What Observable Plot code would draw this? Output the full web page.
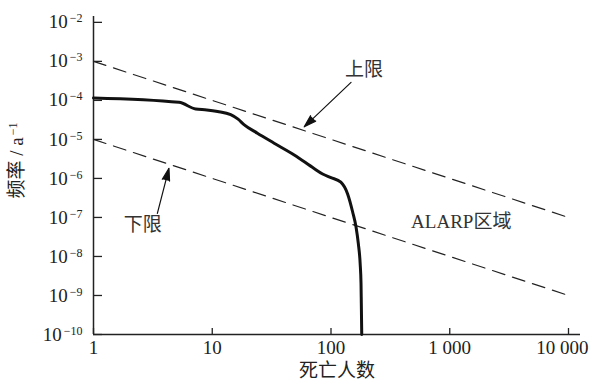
<!DOCTYPE html>
<html><head><meta charset="utf-8">
<script src="https://cdn.jsdelivr.net/npm/d3@7"></script>
<script src="https://cdn.jsdelivr.net/npm/@observablehq/plot@0.6"></script>
<style>
body{margin:0;background:#fff;}
#chart svg, #chart svg text { font-family: "Liberation Serif", "Times New Roman", "Noto Sans CJK SC", serif !important; }
</style></head><body><div id="chart"></div>
<script>
// F-N curve (deaths vs frequency)
const deaths = [1, 5.25, 7.26, 9, 11.1, 14.3, 16.5, 18.5, 24, 33.2, 49, 72, 85, 100, 121, 138, 152, 162.5, 170, 176, 179, 180, 181.5];
const freq = [1.15e-4, 8.9e-5, 6.0e-5, 5.7e-5, 5.2e-5, 4.3e-5, 3.3e-5, 2.4e-5, 1.44e-5, 8e-6, 4e-6, 1.8e-6, 1.3e-6, 1.05e-6, 8.0e-7, 4e-7, 1.4e-7, 5.7e-8, 2.1e-8, 6.6e-9, 2e-9, 6.2e-10, 1e-10];

// criterion lines
const limitX = [1, 10000];
const upperLimit = [1e-3, 1e-7];
const lowerLimit = [1e-5, 1e-9];

// ticks
const xTicks = [1, 10, 100, 1000, 10000];
const xTickLabels = ["1", "10", "100", "1 000", "10 000"];
const yTicks = [1e-10, 1e-9, 1e-8, 1e-7, 1e-6, 1e-5, 1e-4, 1e-3, 1e-2];
const yTickExponents = ["−10", "−9", "−8", "−7", "−6", "−5", "−4", "−3", "−2"];

// annotations
const noteText = ["上限", "下限", "ALARP区域"];
const noteX = [190, 2.6, 1250];
const noteY = [6.2e-4, 6.3e-8, 7.6e-8];
const arrowX1 = [147.5, 3.45];
const arrowY1 = [2.9e-4, 1.27e-7];
const arrowX2 = [59.5, 4.32];
const arrowY2 = [2.1e-5, 1.82e-6];

const xLabel = "死亡人数";
const yLabelMain = "频率 / a";
const yLabelSup = "−1";

const curve = deaths.map((d, i) => ({x: d, y: freq[i]}));
const upper = limitX.map((d, i) => ({x: d, y: upperLimit[i]}));
const lower = limitX.map((d, i) => ({x: d, y: lowerLimit[i]}));
const notes = noteText.map((t, i) => ({t, x: noteX[i], y: noteY[i]}));
const arrows = arrowX1.map((d, i) => ({x1: d, y1: arrowY1[i], x2: arrowX2[i], y2: arrowY2[i]}));

const font = "Liberation Serif, Noto Sans CJK SC, serif";

const plot = Plot.plot({
  width: 592,
  height: 379,
  marginLeft: 93,
  marginRight: 12,
  marginTop: 16,
  marginBottom: 45,
  style: {fontFamily: font, fontSize: "19px", background: "#fff", color: "#222"},
  x: {type: "log", domain: [1, 12620]},
  y: {type: "log", domain: [1e-10, Math.pow(10, -1.85)]},
  marks: [
    Plot.axisX({
      ticks: xTicks,
      tickFormat: (d) => xTickLabels[xTicks.indexOf(d)],
      tickSize: -6,
      tickPadding: 12,
      strokeWidth: 1.3,
      label: xLabel,
      labelAnchor: "center",
      labelOffset: 42,
      labelArrow: "none"
    }),
    Plot.axisY({
      ticks: yTicks,
      tickFormat: (d) => yTickExponents[yTicks.indexOf(d)],
      tickSize: -9,
      tickPadding: 20,
      strokeWidth: 1.3,
      label: yLabelMain,
      labelAnchor: "center",
      labelOffset: 84,
      labelArrow: "none"
    }),
    Plot.ruleX([1], {stroke: "#222", strokeWidth: 1.5}),
    Plot.ruleY([1e-10], {stroke: "#222", strokeWidth: 1.5}),
    Plot.line(upper, {x: "x", y: "y", stroke: "#222", strokeWidth: 1.2, strokeDasharray: "13,8"}),
    Plot.line(lower, {x: "x", y: "y", stroke: "#222", strokeWidth: 1.2, strokeDasharray: "13,8"}),
    Plot.line(curve, {x: "x", y: "y", stroke: "#111", strokeWidth: 3, curve: "monotone-x"}),
    Plot.arrow(arrows, {x1: "x1", y1: "y1", x2: "x2", y2: "y2", stroke: "#111", fill: "#111", strokeWidth: 1.2, headLength: 16, headAngle: 34}),
    Plot.text(notes, {x: "x", y: "y", text: "t", fontSize: 19, fill: "#333"})
  ]
});

// superscript exponents on y tick labels
d3.select(plot).selectAll('g[aria-label="y-axis tick label"] text').each(function() {
  const t = d3.select(this);
  const exp = t.text();
  t.text(null);
  t.append("tspan").text("10");
  t.append("tspan").attr("dy", "-0.5em").attr("font-size", "12px").attr("dx", "2").text(exp);
});
// keep the last x tick label inside the picture
d3.select(plot).selectAll('g[aria-label="x-axis tick label"] text').each(function() {
  const t = d3.select(this);
  if (t.text() === xTickLabels[xTickLabels.length - 1]) t.attr("dx", -6);
});
// superscript in y label, nudged upward
d3.select(plot).selectAll('g[aria-label="y-axis label"] text').each(function() {
  const t = d3.select(this);
  t.text(null);
  t.attr("dx", 15);
  t.append("tspan").text(yLabelMain);
  t.append("tspan").attr("dy", "-0.5em").attr("font-size", "12px").attr("dx", "2").text(yLabelSup);
});

document.getElementById("chart").appendChild(plot);
</script>
</body></html>
